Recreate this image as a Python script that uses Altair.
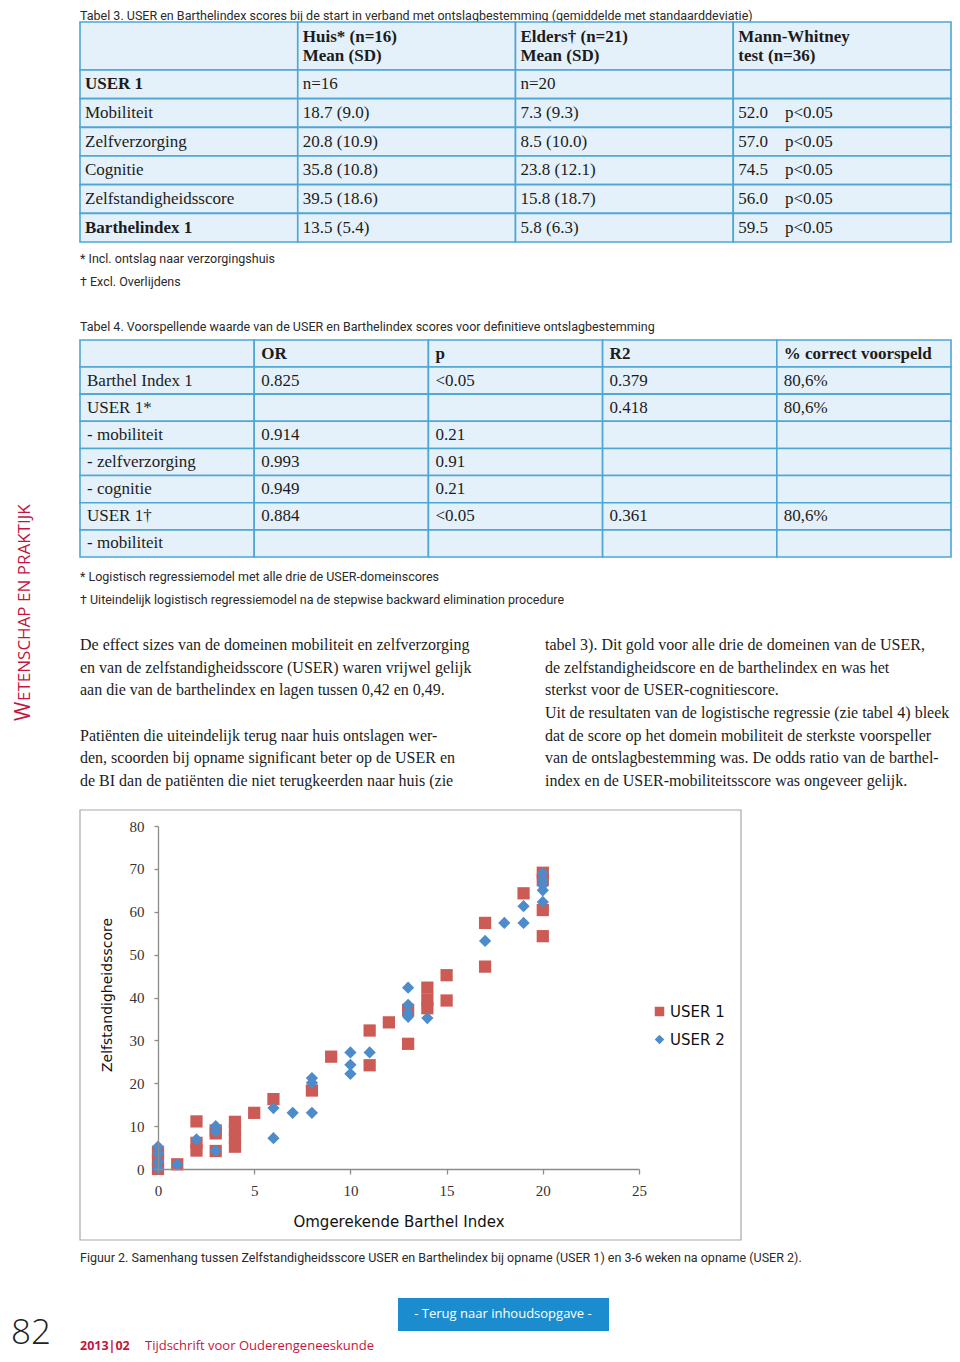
import altair as alt
import pandas as pd

# ---------------- data ----------------
NB = "\u00a0"
T3_TITLE = "Tabel 3. USER en Barthelindex scores bij de start in verband met ontslagbestemming (gemiddelde met standaarddeviatie)"
T3_HEADER = ["", "Huis* (n=16)\nMean (SD)", "Elders† (n=21)\nMean (SD)", "Mann-Whitney\ntest (n=36)"]
T3_LABELS = ["USER 1", "Mobiliteit", "Zelfverzorging", "Cognitie", "Zelfstandigheidsscore", "Barthelindex 1"]
T3_BOLD = ["USER 1", "Barthelindex 1"]
T3_HUIS = ["n=16", "18.7 (9.0)", "20.8 (10.9)", "35.8 (10.8)", "39.5 (18.6)", "13.5 (5.4)"]
T3_ELDERS = ["n=20", "7.3 (9.3)", "8.5 (10.0)", "23.8 (12.1)", "15.8 (18.7)", "5.8 (6.3)"]
T3_MW_U = ["", "52.0", "57.0", "74.5", "56.0", "59.5"]
T3_MW_P = ["", "p<0.05", "p<0.05", "p<0.05", "p<0.05", "p<0.05"]
T3_NOTES = ["* Incl. ontslag naar verzorgingshuis", "† Excl. Overlijdens"]

T4_TITLE = "Tabel 4. Voorspellende waarde van de USER en Barthelindex scores voor definitieve ontslagbestemming"
T4_HEADER = ["", "OR", "p", "R2", "% correct voorspeld"]
T4_LABELS = ["Barthel Index 1", "USER 1*", "- mobiliteit", "- zelfverzorging", "- cognitie", "USER 1†", "- mobiliteit"]
T4_OR = ["0.825", "", "0.914", "0.993", "0.949", "0.884", ""]
T4_P = ["<0.05", "", "0.21", "0.91", "0.21", "<0.05", ""]
T4_R2 = ["0.379", "0.418", "", "", "", "0.361", ""]
T4_PCT = ["80,6%", "80,6%", "", "", "", "80,6%", ""]
T4_NOTES = ["* Logistisch regressiemodel met alle drie de USER-domeinscores",
            "† Uiteindelijk logistisch regressiemodel na de stepwise backward elimination procedure"]

BODY_LEFT = [
    "De effect sizes van de domeinen mobiliteit en zelfverzorging",
    "en van de zelfstandigheidsscore (USER) waren vrijwel gelijk",
    "aan die van de barthelindex en lagen tussen 0,42 en 0,49.",
    "",
    "Patiënten die uiteindelijk terug naar huis ontslagen wer-",
    "den, scoorden bij opname significant beter op de USER en",
    "de BI dan de patiënten die niet terugkeerden naar huis (zie",
]
BODY_RIGHT = [
    "tabel 3). Dit gold voor alle drie de domeinen van de USER,",
    "de zelfstandigheidscore en de barthelindex en was het",
    "sterkst voor de USER-cognitiescore.",
    "Uit de resultaten van de logistische regressie (zie tabel 4) bleek",
    "dat de score op het domein mobiliteit de sterkste voorspeller",
    "van de ontslagbestemming was. De odds ratio van de barthel-",
    "index en de USER-mobiliteitsscore was ongeveer gelijk.",
]

SERIES = ["USER 1", "USER 2"]
USER1_X = [0, 0, 0, 1, 2, 2, 2, 3, 3, 3, 4, 4, 4, 4, 5, 6, 8, 9, 11, 11, 12, 13, 13,
           14, 14, 14, 15, 15, 17, 17, 19, 20, 20, 20, 20]
USER1_Y = [0, 2, 4, 1.1, 4.3, 6.1, 11.1, 4.2, 8.3, 9.0, 5.2, 7.1, 9.1, 11.0, 13.1, 16.3, 18.3, 26.2, 24.2, 32.3, 34.2, 29.2, 37.1,
           37.5, 39.5, 42.3, 39.3, 45.2, 47.2, 57.4, 64.3, 54.3, 60.4, 67.4, 69.1]
USER2_X = [0, 0, 0, 0, 1, 2, 3, 3, 3, 6, 6, 7, 8, 8, 8, 10, 10, 10, 11, 13, 13, 13, 13,
           14, 17, 18, 19, 19, 20, 20, 20, 20, 20]
USER2_Y = [0.2, 1.7, 3.7, 5.2, 1.1, 6.9, 4.2, 8.8, 10.0, 7.2, 14.2, 13.1, 13.1, 20.1, 21.2, 22.2, 24.3, 27.2, 27.2, 35.5, 36.5, 38.3, 42.3,
           35.2, 53.2, 57.4, 57.4, 61.3, 62.3, 65.0, 66.2, 67.4, 69.0]
X_TICKS = [0, 5, 10, 15, 20, 25]
Y_TICKS = [0, 10, 20, 30, 40, 50, 60, 70, 80]
X_TITLE = "Omgerekende Barthel Index"
Y_TITLE = "Zelfstandigheidsscore"
FIG_CAPTION = ("Figuur 2. Samenhang tussen Zelfstandigheidsscore USER en Barthelindex bij opname "
               "(USER 1) en 3-6 weken na opname (USER 2).")

SIDEBAR_W = "W"
SIDEBAR_REST = "ETENSCHAP EN PRAKTIJK"
PAGE_NO = "82"
ISSUE = "2013|02"
JOURNAL = "Tijdschrift voor Ouderengeneeskunde"
BUTTON = "- Terug naar inhoudsopgave -"

# ---------------- style ----------------
W, H = 944, 1346
SERIF = "Liberation Serif, Times New Roman, serif"
NARROW = "Roboto, Liberation Sans Narrow, sans-serif"
SANS = "DejaVu Sans, Verdana, sans-serif"
ROUND = "Open Sans, Roboto, sans-serif"
INK = "#1c1c1c"
CAP = "#2a2a2a"
CELL = "#e4f1fa"
LINE = "#4ea6d3"
RED = "#cd5b55"
BLUE = "#4d8bcb"
AX = "#8c8c8c"
CRIMSON = "#c3163e"
BTN = "#1b8dcf"


def X(v):
    return v - 8


def Y(v):
    return v - 8


def label(text, x, y, **kw):
    base = dict(align="left", baseline="middle")
    base.update(kw)
    return alt.Chart(pd.DataFrame({"t": [text]})).mark_text(**base).encode(
        x=alt.value(X(x)), y=alt.value(Y(y)), text="t:N")


def box(x0, x1, y0, y1, **kw):
    return alt.Chart(pd.DataFrame({"a": [0]})).mark_rect(**kw).encode(
        x=alt.value(X(x0)), x2=alt.value(X(x1)), y=alt.value(Y(y0)), y2=alt.value(Y(y1)))


def table(header, columns, bold_labels, x0, x1, yh0, yh1, yb1, dx):
    ncol = len(header)
    nrow = len(columns[0])
    xs = alt.Scale(type="band", domain=list(range(ncol)), range=[X(x0), X(x1)], paddingInner=0, paddingOuter=0)
    hs = alt.Scale(type="band", domain=[0], range=[Y(yh0), Y(yh1)], paddingInner=0, paddingOuter=0)
    bs = alt.Scale(type="band", domain=list(range(nrow)), range=[Y(yh1), Y(yb1)], paddingInner=0, paddingOuter=0)
    head = pd.DataFrame({"col": list(range(ncol)), "row": [0] * ncol, "t": header})
    recs = []
    for c in range(ncol):
        for r in range(nrow):
            s = columns[c][r]
            recs.append({"col": c, "row": r, "t": s, "b": bool(c == 0 and s in bold_labels)})
    body = pd.DataFrame(recs)
    xe = alt.X("col:O", scale=xs, axis=None)
    xt = alt.X("col:O", scale=xs, axis=None, bandPosition=0)
    yh = alt.Y("row:O", scale=hs, axis=None)
    yb = alt.Y("row:O", scale=bs, axis=None)
    cell = dict(fill=CELL, stroke=LINE, strokeWidth=1.6)
    lh = 19
    nlines = max(h.count("\n") + 1 for h in header)
    txt = dict(align="left", baseline="middle", dx=dx, font=SERIF, fontSize=17, color=INK,
               lineBreak="\n", lineHeight=lh)
    return [
        alt.Chart(head).mark_rect(**cell).encode(x=xe, y=yh),
        alt.Chart(body).mark_rect(**cell).encode(x=xe, y=yb),
        alt.Chart(head[head.t != ""]).mark_text(fontWeight="bold", dy=-(nlines - 1) * lh / 2, **txt).encode(
            x=xt, y=yh, text="t:N"),
        alt.Chart(body[body.b]).mark_text(fontWeight="bold", **txt).encode(x=xt, y=yb, text="t:N"),
        alt.Chart(body[(~body.b) & (body.t != "")]).mark_text(**txt).encode(x=xt, y=yb, text="t:N"),
    ]


layers = []

# ---- Table 3 ----
cap = dict(font=NARROW, fontSize=12.5, color=CAP)
layers.append(label(T3_TITLE, 80, 10, baseline="top", **cap))
t3_mw = [u + (NB * 4 if u else "") + p for u, p in zip(T3_MW_U, T3_MW_P)]
layers += table(T3_HEADER, [T3_LABELS, T3_HUIS, T3_ELDERS, t3_mw], T3_BOLD, 80, 951, 22, 70, 242, 5)
layers.append(label(T3_NOTES[0], 80, 259, **cap))
layers.append(label(T3_NOTES[1], 80, 282, **cap))

# ---- Table 4 ----
layers.append(label(T4_TITLE, 80, 327, **cap))
layers += table(T4_HEADER, [T4_LABELS, T4_OR, T4_P, T4_R2, T4_PCT], [], 80, 951, 340, 367, 557, 7)
layers.append(label(T4_NOTES[0], 80, 577, **cap))
layers.append(label(T4_NOTES[1], 80, 600, **cap))

# ---- body text (two columns) ----
body_df = pd.DataFrame([{"c": c, "line": i, "t": s}
                        for c, lines in enumerate([BODY_LEFT, BODY_RIGHT])
                        for i, s in enumerate(lines) if s])
layers.append(alt.Chart(body_df).mark_text(align="left", baseline="middle", font=SERIF, fontSize=16, color=INK).encode(
    x=alt.X("c:O", scale=alt.Scale(type="point", domain=[0, 1], range=[X(80), X(545)], padding=0), axis=None),
    y=alt.Y("line:Q", scale=alt.Scale(domain=[0, 6], range=[Y(645), Y(781)], nice=False, zero=False), axis=None),
    text="t:N"))

# ---- figure ----
layers.append(box(80, 741, 810, 1240, fill="white", stroke="#a8a8a8", strokeWidth=1.2))
sc = pd.DataFrame({"x": USER1_X + USER2_X, "y": USER1_Y + USER2_Y,
                   "s": [SERIES[0]] * len(USER1_X) + [SERIES[1]] * len(USER2_X)})
leg = dict(orient="none", legendX=X(652), legendY=Y(1004), title=None, labelFont=SANS, labelFontSize=15,
           labelColor="#111", symbolSize=90, rowPadding=12, padding=0, labelOffset=3, symbolStrokeWidth=0)
layers.append(alt.Chart(sc).mark_point(filled=True, opacity=1, size=150, strokeWidth=0).encode(
    x=alt.X("x:Q", scale=alt.Scale(domain=[0, 25], range=[X(158), X(639)], nice=False, zero=False),
            axis=alt.Axis(orient="bottom", values=X_TICKS, title=None, grid=False, offset=Y(1169) - H,
                          labelFlush=False, zindex=1,
                          domainColor=AX, tickColor=AX, domainWidth=1.3, tickWidth=1.3, tickSize=5,
                          labelPadding=9, labelFont=SERIF, labelFontSize=15, labelColor="#333")),
    y=alt.Y("y:Q", scale=alt.Scale(domain=[0, 80], range=[Y(1169), Y(826)], nice=False, zero=False),
            axis=alt.Axis(orient="left", values=Y_TICKS, title=None, grid=False, offset=-X(158), zindex=1,
                          domainColor=AX, tickColor=AX, domainWidth=1.3, tickWidth=1.3, tickSize=4,
                          labelPadding=10, labelFont=SERIF, labelFontSize=15, labelColor="#333")),
    color=alt.Color("s:N", scale=alt.Scale(domain=SERIES, range=[RED, BLUE]), legend=alt.Legend(**leg)),
    shape=alt.Shape("s:N", scale=alt.Scale(domain=SERIES, range=["square", "diamond"]), legend=alt.Legend(**leg)),
))
layers.append(label(Y_TITLE, 108, 995, align="center", angle=270, font=SANS, fontSize=14, color="#111"))
layers.append(label(X_TITLE, 399, 1222, align="center", font=SANS, fontSize=15, color="#111"))
layers.append(label(FIG_CAPTION, 80, 1258, **cap))

# ---- sidebar ----
layers.append(label(SIDEBAR_W, 30, 721, baseline="alphabetic", angle=270, font=ROUND, fontSize=21, color=CRIMSON))
layers.append(label(SIDEBAR_REST, 30, 701, baseline="alphabetic", angle=270, font=ROUND, fontSize=17, color=CRIMSON))

# ---- footer ----
layers.append(box(398, 609, 1298, 1331, fill=BTN))
layers.append(label(BUTTON, 503, 1314, align="center", font=ROUND, fontSize=13, color="white"))
layers.append(label(PAGE_NO, 11, 1344, baseline="alphabetic", font=ROUND, fontSize=35, fontWeight=300, color="#222"))
layers.append(label(ISSUE, 80, 1350, baseline="alphabetic", font=ROUND, fontSize=12.5, fontWeight="bold", color=CRIMSON))
layers.append(label(JOURNAL, 145, 1350, baseline="alphabetic", font=ROUND, fontSize=13, color=CRIMSON))

chart = alt.layer(*layers).resolve_scale(
    x="independent", y="independent"
).properties(
    width=W, height=H, autosize=alt.AutoSizeParams(type="none"), padding=0, background="white"
).configure_view(stroke=None)

chart.save("out.html", embed_options={"renderer": "svg", "actions": False})
